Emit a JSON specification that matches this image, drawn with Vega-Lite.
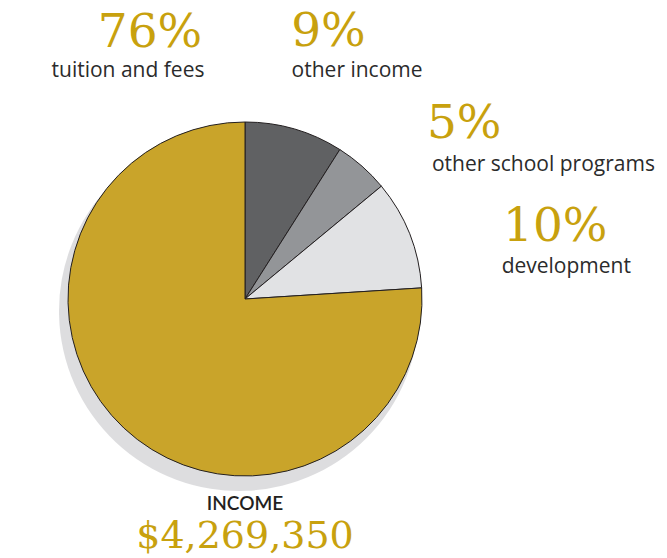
{
  "$schema": "https://vega.github.io/schema/vega-lite/v6.json",
  "autosize": "none",
  "width": 490,
  "height": 518,
  "padding": {"top": 40, "left": 0, "right": 177, "bottom": 0},
  "background": "white",
  "view": {"stroke": null},
  "title": {
    "text": "INCOME",
    "subtitle": "$4,269,350",
    "orient": "bottom",
    "anchor": "middle",
    "offset": -121,
    "font": "Lato",
    "fontSize": 19,
    "fontWeight": 600,
    "color": "#231f20",
    "subtitleFont": "DejaVu Serif",
    "subtitleFontSize": 38,
    "subtitleColor": "#c8a10e",
    "subtitlePadding": 4
  },
  "data": {
    "values": [
      {"category": "other income", "share": 0.09, "order": 1},
      {"category": "other school programs", "share": 0.05, "order": 2},
      {"category": "development", "share": 0.10, "order": 3},
      {"category": "tuition and fees", "share": 0.76, "order": 4}
    ]
  },
  "encoding": {
    "theta": {"field": "share", "type": "quantitative", "stack": true},
    "order": {"field": "order", "type": "quantitative"}
  },
  "layer": [
    {
      "mark": {"type": "arc", "radius": 180, "fill": "#d4d5d7", "yOffset": 12, "xOffset": -6, "opacity": 0.8}
    },
    {
      "mark": {"type": "arc", "radius": 177, "stroke": "#231f20", "strokeWidth": 1},
      "encoding": {
        "color": {
          "field": "category",
          "type": "nominal",
          "scale": {
            "domain": ["other income", "other school programs", "development", "tuition and fees"],
            "range": ["#606163", "#939598", "#e1e2e4", "#c9a42a"]
          },
          "legend": null
        }
      }
    },
    {
      "mark": {"type": "text", "radius": 0, "dx": -95, "dy": -252, "font": "DejaVu Serif", "fontSize": 47, "color": "#c8a10e", "align": "center", "baseline": "alphabetic"},
      "encoding": {"text": {"condition": {"test": "datum.category === 'tuition and fees'", "field": "share", "format": ".0%"}, "value": ""}}
    },
    {
      "mark": {"type": "text", "radius": 0, "dx": -117, "dy": -222, "font": "Open Sans", "fontSize": 21, "color": "#2b2b2b", "align": "center", "baseline": "alphabetic"},
      "encoding": {"text": {"condition": {"test": "datum.category === 'tuition and fees'", "field": "category"}, "value": ""}}
    },
    {
      "mark": {"type": "text", "radius": 267, "dx": 9, "dy": 3, "font": "DejaVu Serif", "fontSize": 47, "color": "#c8a10e", "align": "center", "baseline": "alphabetic"},
      "encoding": {"text": {"condition": {"test": "datum.category === 'other income'", "field": "share", "format": ".0%"}, "value": ""}}
    },
    {
      "mark": {"type": "text", "radius": 244, "dx": 44, "dy": 12, "font": "Open Sans", "fontSize": 21, "color": "#2b2b2b", "align": "center", "baseline": "alphabetic"},
      "encoding": {"text": {"condition": {"test": "datum.category === 'other income'", "field": "category"}, "value": ""}}
    },
    {
      "mark": {"type": "text", "radius": 265, "dx": 44, "dy": 38, "font": "DejaVu Serif", "fontSize": 47, "color": "#c8a10e", "align": "center", "baseline": "alphabetic"},
      "encoding": {"text": {"condition": {"test": "datum.category === 'other school programs'", "field": "share", "format": ".0%"}, "value": ""}}
    },
    {
      "mark": {"type": "text", "radius": 294, "dx": 104, "dy": 93, "font": "Open Sans", "fontSize": 21, "color": "#2b2b2b", "align": "center", "baseline": "alphabetic"},
      "encoding": {"text": {"condition": {"test": "datum.category === 'other school programs'", "field": "category"}, "value": ""}}
    },
    {
      "mark": {"type": "text", "radius": 309, "dx": 23, "dy": 56, "font": "DejaVu Serif", "fontSize": 47, "color": "#c8a10e", "align": "center", "baseline": "alphabetic"},
      "encoding": {"text": {"condition": {"test": "datum.category === 'development'", "field": "share", "format": ".0%"}, "value": ""}}
    },
    {
      "mark": {"type": "text", "radius": 309, "dx": 34, "dy": 88, "font": "Open Sans", "fontSize": 21, "color": "#2b2b2b", "align": "center", "baseline": "alphabetic"},
      "encoding": {"text": {"condition": {"test": "datum.category === 'development'", "field": "category"}, "value": ""}}
    }
  ]
}
